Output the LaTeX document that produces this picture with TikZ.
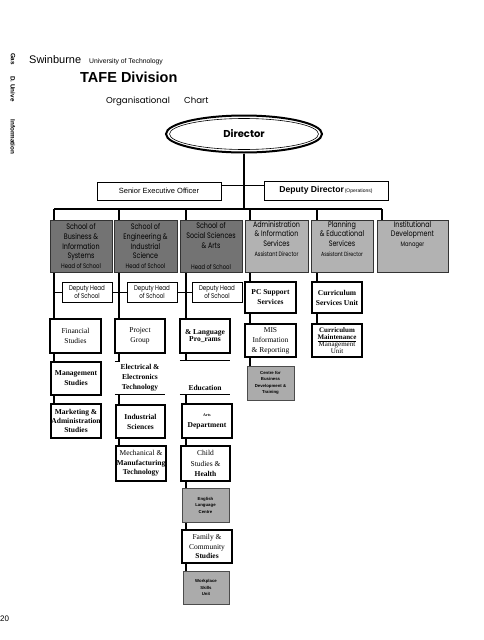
\documentclass[tikz,border=0pt]{standalone}
\usepackage{fontspec}
\setmainfont{Liberation Serif}
\newfontfamily\arial{Liberation Sans}
\newfontfamily\geo{Poppins}
\newfontfamily\geon[FakeStretch=0.8]{Poppins}
\usetikzlibrary{backgrounds,shapes.geometric}
\newcommand{\tbx}[3]{\parbox[c][#2][t]{#1}{\centering #3}}
\begin{document}
\begin{tikzpicture}[x=1pt,y=-1pt,
  conn/.style={line width=1.5pt},
  thinconn/.style={line width=0.8pt},
  schoolbox/.style={draw=black!80, line width=0.6pt, inner sep=0pt, align=center, font=\geon\fontsize{8}{9.8}\selectfont},
  darkbox/.style={schoolbox, fill=black!55},
  lightbox/.style={schoolbox, fill=black!30},
  dhbox/.style={draw, line width=0.7pt, fill=white, inner sep=0pt, align=center, font=\geon\fontsize{6.9}{8.5}\selectfont},
  sbox/.style={draw, line width=1.1pt, fill=white, inner sep=0pt, align=center, font=\fontsize{7.5}{10}\selectfont\bfseries},
  gbox/.style={draw=black!70, line width=0.7pt, fill=black!33, inner sep=0pt, align=center, font=\arial\bfseries\fontsize{4.3}{6.5}\selectfont},
  topbox/.style={draw, line width=0.8pt, fill=white, inner sep=0pt, align=center},
  sidetext/.style={inner sep=0pt, rotate=-90, font=\arial\bfseries\fontsize{6.3}{7}\selectfont},
  plain/.style={inner sep=0pt}
]
\useasboundingbox (0,0) rectangle (483,640);

% side text
\node[sidetext] (s1) at (13,59) {Gas};
\node[sidetext] (s2) at (13,89) {D. Unive};
\node[sidetext] (s3) at (13,137) {Information};

% header
\node[plain, anchor=base west, font=\arial\fontsize{11}{12}\selectfont] (sw) at (29,63) {Swinburne};
\node[plain, anchor=base west, font=\arial\fontsize{6.8}{8}\selectfont] (ut) at (89,63) {University of Technology};
\node[plain, anchor=base west, font=\arial\bfseries\fontsize{14.5}{16}\selectfont] (tafe) at (80,82) {TAFE Division};
\node[plain, anchor=base west, font=\geo\fontsize{8.6}{10}\selectfont] (org) at (106,103) {Organisational};
\node[plain, anchor=base west, font=\geo\fontsize{8.6}{10}\selectfont] (chart) at (184,103) {Chart};

% director
\node[ellipse, draw, line width=2pt, minimum width=156, minimum height=37, inner sep=0pt, font=\geo\bfseries\fontsize{10}{12}\selectfont] (dir) at (244,134) {Director};
\node[ellipse, draw, line width=0.6pt, minimum width=149, minimum height=31, inner sep=0pt] (dirin) at (244,134) {};

\node[topbox, minimum width=124, minimum height=18, font=\arial\fontsize{7.5}{9}\selectfont] (seo) at (159,191) {Senior Executive Officer};
\node[topbox, minimum width=124, minimum height=19, font=\arial\bfseries\fontsize{8.6}{10}\selectfont] (dd) at (326,190.5) {Deputy Director{\mdseries\fontsize{5}{6}\selectfont\,(Operations)}};

% school row
\node[darkbox, minimum width=62, minimum height=52] (b1) at (81,246) {School of\\Business \&\\Information\\Systems\\{\fontsize{6.6}{8}\selectfont Head of School}};
\node[darkbox, minimum width=63, minimum height=52] (b2) at (145.5,246) {School of\\Engineering \&\\Industrial\\Science\\{\fontsize{6.6}{8}\selectfont Head of School}};
\node[darkbox, minimum width=62, minimum height=52] (b3) at (211,246) {School of\\Social Sciences\\\& Arts\\[11pt]{\fontsize{6.6}{8}\selectfont Head of School}};
\node[lightbox, minimum width=63, minimum height=52] (b4) at (276.5,246) {\tbx{62pt}{50pt}{Administration\\\& Information\\Services\\{\fontsize{6.3}{8}\selectfont Assistant Director}}};
\node[lightbox, minimum width=62, minimum height=52] (b5) at (342,246) {\tbx{61pt}{50pt}{Planning\\\& Educational\\Services\\{\fontsize{6}{8}\selectfont Assistant Director}}};
\node[lightbox, minimum width=71, minimum height=52] (b6) at (412.5,246) {\tbx{70pt}{50pt}{Institutional\\Development\\{\fontsize{6.5}{8}\selectfont Manager}}};

% deputy heads
\node[dhbox, minimum width=50, minimum height=20] (dh1) at (87,292) {Deputy Head\\of School};
\node[dhbox, minimum width=50, minimum height=20] (dh2) at (152,292) {Deputy Head\\of School};
\node[dhbox, minimum width=50, minimum height=20] (dh3) at (217,292) {Deputy Head\\of School};

\node[sbox, minimum width=51, minimum height=31] (pc) at (270.5,297.5) {PC Support\\Services};
\node[sbox, minimum width=50, minimum height=31] (csu) at (337,297.5) {Curriculum\\Services Unit};

% column 1
\node[sbox, minimum width=51, minimum height=34, font=\fontsize{7.5}{10}\selectfont] (fin) at (75.5,336) {Financial\\Studies};
\node[sbox, minimum width=50, minimum height=33] (mgmt) at (76,378.5) {Management\\Studies};
\node[sbox, minimum width=50, minimum height=34, font=\fontsize{7.5}{9}\selectfont\bfseries] (mkt) at (76,421) {Marketing \&\\Administration\\Studies};

% column 2
\node[sbox, minimum width=50, minimum height=34, font=\fontsize{7.5}{10}\selectfont] (pg) at (140,336) {Project\\Group};
\node[plain, fill=white, minimum width=50, minimum height=32, align=center, font=\fontsize{7.5}{10}\selectfont\bfseries] (elec) at (140,378) {Electrical \&\\Electronics\\Technology};
\node[sbox, minimum width=49, minimum height=33] (ind) at (140.5,421.5) {Industrial\\Sciences};
\node[sbox, minimum width=50, minimum height=35, font=\fontsize{7.5}{9.5}\selectfont\bfseries] (mech) at (141,463.5) {{\mdseries Mechanical \&}\\Manufacturing\\Technology};

% column 3
\node[sbox, minimum width=50, minimum height=34, font=\fontsize{7.5}{7.5}\selectfont\bfseries] (lang) at (205,336) {\& Language\\Pro\_rams};
\node[plain, fill=white, minimum width=50, minimum height=33, align=center, font=\fontsize{7.5}{10}\selectfont\bfseries] (edu) at (205,377.5) {\parbox[c][33pt][b]{50pt}{\centering Education\par\vspace{3pt}}};
\node[sbox, minimum width=50, minimum height=34] (art) at (207,421) {{\fontsize{4}{5}\selectfont Arts}\\[1pt]Department};
\node[sbox, minimum width=49, minimum height=35, font=\fontsize{7.5}{10.5}\selectfont] (child) at (205.5,463.5) {Child\\Studies \&\\{\bfseries Health}};
\node[gbox, minimum width=47, minimum height=34] (elc) at (205.5,505) {English\\Language\\Centre};
\node[sbox, minimum width=50, minimum height=33, font=\fontsize{7.5}{9.5}\selectfont] (fam) at (207,546.5) {Family \&\\Community\\{\bfseries Studies}};
\node[gbox, minimum width=46, minimum height=33] (wsu) at (206,587.5) {Workplace\\Skills\\Unit};

% column 4 / 5
\node[sbox, minimum width=51, minimum height=33, font=\fontsize{7.5}{10}\selectfont] (mis) at (270.5,340.5) {MIS\\Information\\\& Reporting};
\node[gbox, minimum width=47, minimum height=34] (cbd) at (270.5,383) {Centre for\\Business\\Development \&\\Training};
\node[sbox, minimum width=50, minimum height=33, font=\fontsize{7}{7.2}\selectfont] (cmm) at (337,340.5) {{\bfseries Curriculum}\\{\bfseries\underline{Maintenance}}\\Management\\Unit};

% partial borders
\draw[line width=0.9pt] (elec.south west) -- (elec.south east);
\draw[line width=0.9pt] (elec.north west) -- ++(5,0);
\draw[line width=0.9pt] (edu.north west) -- (edu.north east);
\draw[line width=0.9pt] (edu.south west) -- (edu.south east);

% page number
\node[plain, anchor=base west, font=\arial\fontsize{8}{9}\selectfont] (pn) at (0,621) {20};

% connectors
\begin{scope}[on background layer]
\coordinate (k1) at (54,209);
\coordinate (k2) at (119,209);
\coordinate (k3) at (186,209);
\coordinate (k4) at (250,209);
\coordinate (k5) at (317,209);
\coordinate (k6) at (382,209);
\draw[conn] (dir.south) -- (dir.south |- k1);
\draw[conn] (k1) -- (k6);
\draw[thinconn] (seo.east |- 0,185) -- (dd.west |- 0,185);
\draw[conn] (k1) -- (k1 |- mkt.north);
\draw[conn] (k2) -- (k2 |- mech.north);
\draw[conn] (k3) -- (k3 |- wsu.north);
\draw[conn] (k4) -- (k4 |- cbd.north);
\draw[conn] (k5) -- (k5 |- cmm.north);
\draw[conn] (k6) -- (k6 |- b6.north);
\draw[thinconn] (k1 |- dh1) -- (dh1.west);
\draw[thinconn] (dh1.east) -- (dh2.west);
\draw[thinconn] (dh2.east) -- (dh3.west);
\end{scope}
\end{tikzpicture}
\end{document}
